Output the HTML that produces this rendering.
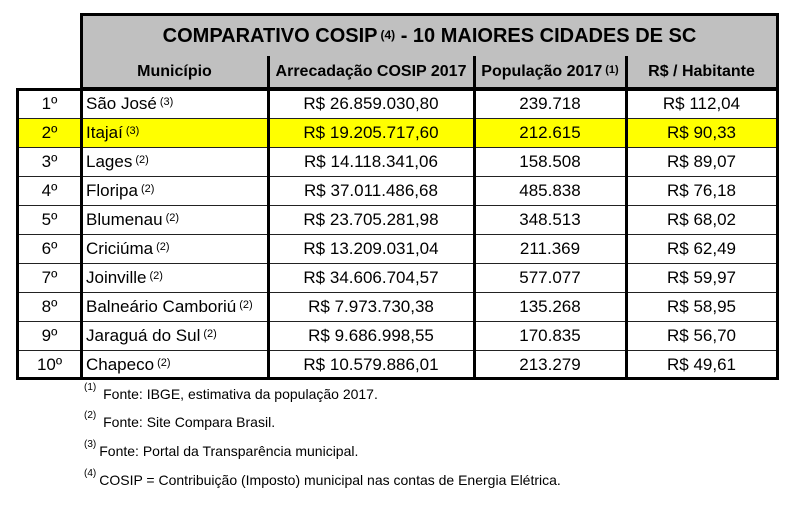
<!DOCTYPE html>
<html><head><meta charset="utf-8"><style>
body{margin:0;width:794px;height:507px;background:#fff;position:relative;overflow:hidden;font-family:"Liberation Sans",sans-serif;color:#000}
.a{position:absolute;box-sizing:border-box}
.c{position:absolute;box-sizing:border-box;display:flex;align-items:center;justify-content:center;font-size:17px;white-space:nowrap}
.l{justify-content:flex-start;padding-left:3px}
sup{font-size:11px;position:relative;top:-2px;vertical-align:top;margin-left:3px}
.fn{position:absolute;left:84px;font-size:14px;white-space:nowrap}
.fn sup{font-size:10px;top:-4px;margin:0 3px 0 0}
</style></head><body>
<div class="a" style="left:80px;top:13px;width:699px;height:43px;background:#c0c0c0;border:3px solid #000;border-bottom:1.5px solid #000"></div>
<div class="c" style="left:80px;top:16px;width:699px;height:41px;font-size:20px;font-weight:bold">COMPARATIVO COSIP<sup style="font-size:12px">(4)</sup>&nbsp;- 10 MAIORES CIDADES DE SC</div>
<div class="a" style="left:80px;top:55px;width:699px;height:34px;background:#c0c0c0;border-left:3px solid #000;border-right:3px solid #000"></div>
<div class="a" style="left:16px;top:88px;width:763px;height:292px;border:3px solid #000"></div>
<div id="t"></div>
<div class="fn" style="top:386px"><sup>(1)</sup> Fonte: IBGE, estimativa da população 2017.</div>
<div class="fn" style="top:414px"><sup>(2)</sup> Fonte: Site Compara Brasil.</div>
<div class="fn" style="top:443px"><sup>(3)</sup>Fonte: Portal da Transparência municipal.</div>
<div class="fn" style="top:472px"><sup>(4)</sup>COSIP = Contribuição (Imposto) municipal nas contas de Energia Elétrica.</div>
<script>
const ranks=["1º","2º","3º","4º","5º","6º","7º","8º","9º","10º"];
const cities=["São José","Itajaí","Lages","Floripa","Blumenau","Criciúma","Joinville","Balneário Camboriú","Jaraguá do Sul","Chapeco"];
const notes=["3","3","2","2","2","2","2","2","2","2"];
const revenue=["R$ 26.859.030,80","R$ 19.205.717,60","R$ 14.118.341,06","R$ 37.011.486,68","R$ 23.705.281,98","R$ 13.209.031,04","R$ 34.606.704,57","R$ 7.973.730,38","R$ 9.686.998,55","R$ 10.579.886,01"];
const population=["239.718","212.615","158.508","485.838","348.513","211.369","577.077","135.268","170.835","213.279"];
const perCapita=["R$ 112,04","R$ 90,33","R$ 89,07","R$ 76,18","R$ 68,02","R$ 62,49","R$ 59,97","R$ 58,95","R$ 56,70","R$ 49,61"];
const headers=["Município","Arrecadação COSIP 2017","População 2017<sup>(1)</sup>","R$ / Habitante"];
const xs=[18,81,268,474,626,777];
const T=document.getElementById('t');
function add(html,x,y,w,h,cls,name,bg){
  const d=document.createElement('div');d.className=cls;d.innerHTML=html;
  d.style.cssText=`left:${x}px;top:${y}px;width:${w}px;height:${h}px;`+(bg?`background:${bg};`:'');
  
  
  T.appendChild(d);return d;}
headers.forEach((h,i)=>{const d=add(h,xs[i+1],56,xs[i+2]-xs[i+1],32,'c','header-'+i);d.style.fontWeight='bold';d.style.fontSize='16px';});
const y0=89,rh=29;
ranks.forEach((r,i)=>{
  const y=y0+i*rh;
  if(i===1){add('',19,y,757,rh,'a','highlight-row','#ffff00');}
  if(i>0){add('',19,y-0.5,757,1,'a','row-line','#222');}
  add(r,xs[0],y,xs[1]-xs[0],rh,'c','rank-cell');
  add(cities[i]+'<sup>('+notes[i]+')</sup>',xs[1]+2,y,xs[2]-xs[1],rh,'c l','city-cell');
  add(revenue[i],xs[2],y,xs[3]-xs[2],rh,'c','revenue-cell');
  add(population[i],xs[3],y,xs[4]-xs[3],rh,'c','population-cell');
  add(perCapita[i],xs[4],y,xs[5]-xs[4],rh,'c','per-capita-cell');
});
add('',80,88,3,292,'a','col-line','#000');
add('',267,56,3,324,'a','col-line','#000');
add('',473,56,3,324,'a','col-line','#000');
add('',625,56,3,324,'a','col-line','#000');
add('',80,87,699,3,'a','header-line','#000');
</script>
</body></html>
